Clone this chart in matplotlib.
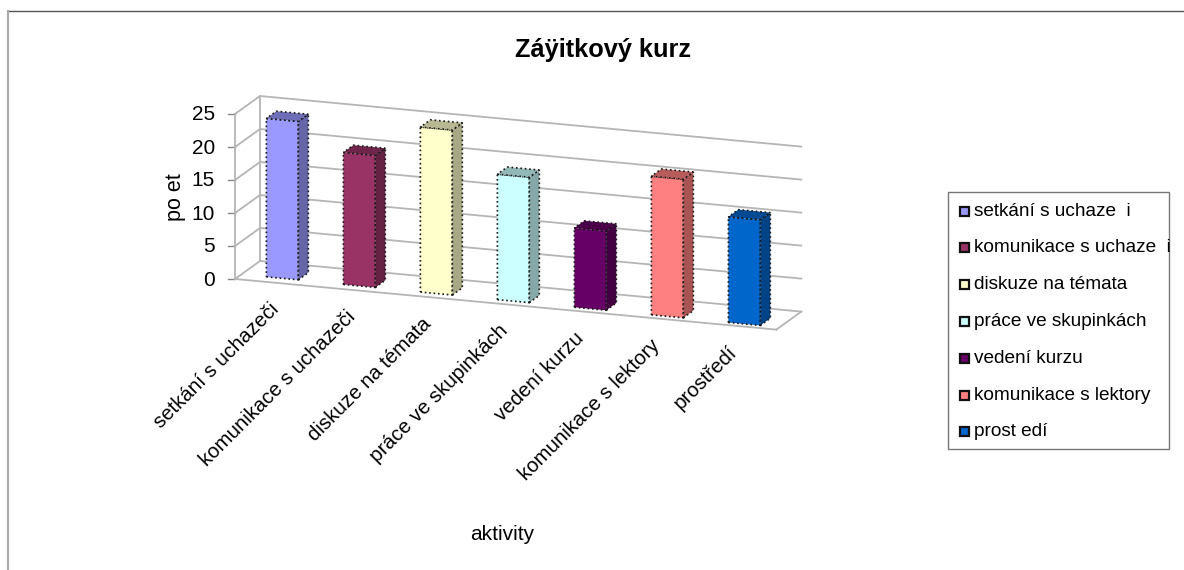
import matplotlib
matplotlib.use("Agg")
import matplotlib.pyplot as plt
from matplotlib.patches import Polygon, Rectangle

plt.rcParams['font.family'] = ['Liberation Sans', 'DejaVu Sans']

# data
categories = ['setkání s uchazeči', 'komunikace s uchazeči', 'diskuze na témata',
              'práce ve skupinkách', 'vedení kurzu', 'komunikace s lektory', 'prostředí']
legend_labels = ['setkání s uchaze  i', 'komunikace s uchaze  i', 'diskuze na témata',
                 'práce ve skupinkách', 'vedení kurzu', 'komunikace s lektory', 'prost edí']
values = [24, 20, 25, 19, 12, 21, 16]
y_ticks = [0, 5, 10, 15, 20, 25]
colors = ['#9999FF', '#993366', '#FFFFCC', '#CCFFFF', '#660066', '#FF8080', '#0066CC']


# oblique projection: u = category position, v = value, d = depth
def proj(u, v, d=0.0):
    return (235 + 77 * u + 25 * d, 279 + 7.2 * u - 18 * d - 6.6 * v)


# same, for the bars, which sit slightly lower on the floor towards the right
def bar_proj(i, u, v, d):
    x, y = proj(i + u, v, d)
    return (x, y + 1 + 0.4 * i)


def shade(c, f):
    rgb = matplotlib.colors.to_rgb(c)
    return tuple(x * f for x in rgb)


fig = plt.figure(figsize=(11.84, 5.70), dpi=100)
ax = fig.add_axes([0, 0, 1, 1])
ax.set_xlim(0, 1184)
ax.set_ylim(570, 0)
ax.axis('off')

# outer frame
ax.plot([8, 1184], [11, 11], color='#555555', lw=1)
ax.plot([8, 8], [11, 570], color='#aaaaaa', lw=1.5)

ax.text(603, 50, 'Záÿitkový kurz', fontsize=18.3, fontweight='bold', ha='center', va='center')

# walls and gridlines
grid = '#b5b5b5'
u_end = 7.03
for t in y_ticks:
    pts = [proj(0, t, 0), proj(0, t, 1), proj(u_end, t, 1)]
    ax.plot([p[0] for p in pts], [p[1] for p in pts], color=grid, lw=1.3, zorder=1)
    x, y = proj(0, t, 0)
    ax.plot([x - 7, x], [y, y], color='#888888', lw=1, zorder=1)
    ax.text(x - 20, y + 1, str(t), fontsize=15, ha='right', va='center')
for p, q in [(proj(0, 0, 0), proj(0, 25, 0)), (proj(0, 0, 1), proj(0, 25, 1)),
             (proj(0, 0, 0), proj(u_end, 0, 0)), (proj(u_end, 0, 0), proj(u_end, 0, 1))]:
    ax.plot([p[0], q[0]], [p[1], q[1]], color=grid, lw=1.3, zorder=1)

# bars
u0, u1, d0, d1 = 0.31, 0.725, 0.3, 0.7
edge = dict(edgecolor='#1a1a1a', linewidth=1.2, linestyle=':', zorder=3)
for i, (val, c) in enumerate(zip(values, colors)):
    ax.add_patch(Polygon([bar_proj(i, u0, 0, d0), bar_proj(i, u1, 0, d0),
                          bar_proj(i, u1, val, d0), bar_proj(i, u0, val, d0)],
                         facecolor=c, **edge))
    ax.add_patch(Polygon([bar_proj(i, u1, 0, d0), bar_proj(i, u1, 0, d1),
                          bar_proj(i, u1, val, d1), bar_proj(i, u1, val, d0)],
                         facecolor=shade(c, 0.66), **edge))
    ax.add_patch(Polygon([bar_proj(i, u0, val, d0), bar_proj(i, u1, val, d0),
                          bar_proj(i, u1, val, d1), bar_proj(i, u0, val, d1)],
                         facecolor=shade(c, 0.72), **edge))
    # category label
    x, y = proj(i + 0.5, 0, 0)
    ax.text(x - 4 - 0.8 * i, y + 17, categories[i], fontsize=14.7, rotation=45, rotation_mode='anchor',
            ha='right', va='top')

# axis titles
ax.text(176, 197, 'po et', fontsize=15.5, rotation=90, ha='center', va='center')
ax.text(502, 534, 'aktivity', fontsize=15, ha='center', va='center')

# legend
ax.add_patch(Rectangle((948, 192), 221, 257, facecolor='white', edgecolor='#777777', lw=1))
for i, (lab, c) in enumerate(zip(legend_labels, colors)):
    y = 211 + i * 36.8
    ax.add_patch(Rectangle((960, y - 4.5), 9, 9, facecolor=c, edgecolor='#111111', lw=1.6))
    ax.text(973.5, y, lab, fontsize=13.7, ha='left', va='center')

fig.savefig('out.png', dpi=100)
